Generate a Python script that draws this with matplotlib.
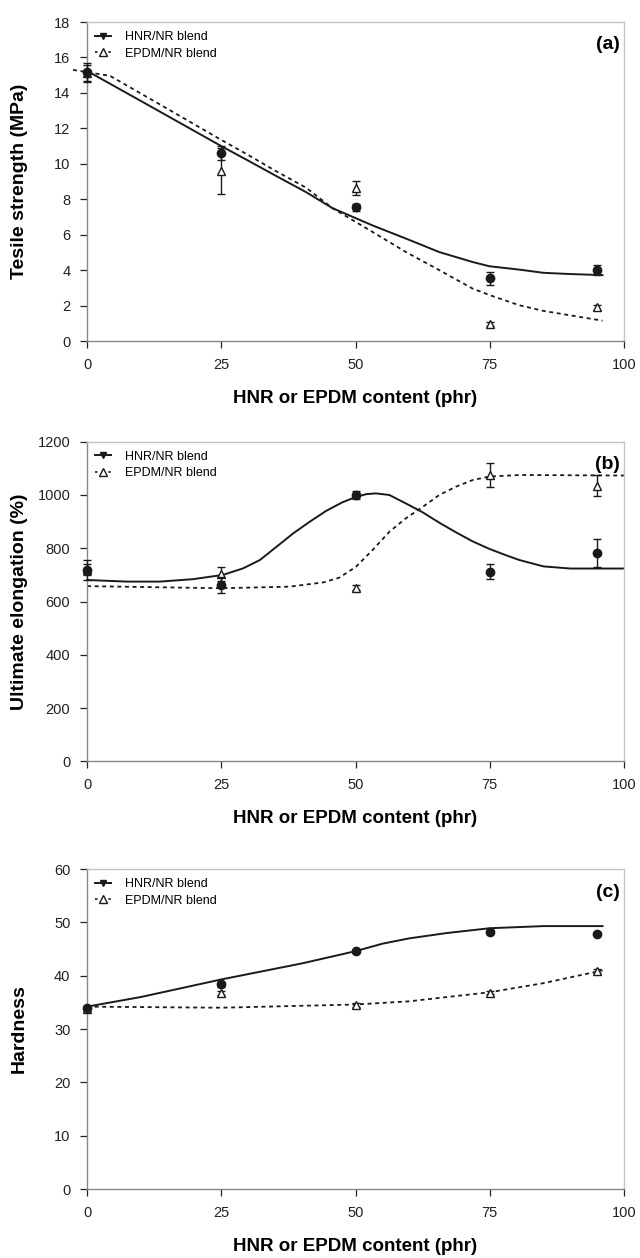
import numpy as np
import matplotlib
matplotlib.use('Agg')
import matplotlib.pyplot as plt

plt.rcParams['font.family'] = ['Liberation Sans', 'DejaVu Sans']

# contenu en HNR ou EPDM (phr)
x_pts = [0, 25, 50, 75, 95]

# (a) résistance à la traction
ts_hnr = [15.2, 10.6, 7.55, 3.55, 4.0]
ts_hnr_err = [0.5, 0.4, 0.2, 0.37, 0.3]
ts_epdm = [15.1, 9.6, 8.65, 0.95, 1.9]
ts_epdm_err = [0.5, 1.3, 0.4, 0.1, 0.15]
ts_fit_x = [0, 10, 20, 25, 30, 35, 40.8, 45.7, 53.2, 59.4, 65.6, 71.8, 74.9, 80.5, 85, 90, 96]
ts_fit_hnr = [15.24, 13.55, 11.85, 11.0, 10.18, 9.35, 8.4, 7.5, 6.52, 5.78, 5.02, 4.46, 4.22, 4.03, 3.85, 3.78, 3.72]
ts_fit_x2 = [-2.6, 4.3, 15, 24.7, 30, 35, 40.8, 45.7, 53.2, 59.4, 65.6, 71.8, 74.9, 80.5, 85, 90, 96]
ts_fit_epdm = [15.3, 14.96, 13.1, 11.4, 10.5, 9.62, 8.65, 7.5, 6.15, 5.02, 4.0, 2.96, 2.6, 2.02, 1.7, 1.45, 1.15]

# (b) allongement à la rupture
el_hnr = [718, 662, 1000, 712, 783]
el_hnr_err = [38, 30, 15, 28, 52]
el_epdm = [720, 703, 652, 1075, 1035]
el_epdm_err = [20, 25, 10, 45, 40]
el_fit_x = [0, 7.4, 13.6, 19.7, 25.3, 29.1, 32.2, 35.3, 38.4, 41.5, 44.5, 47.5, 50.1, 52, 53.8, 56.3,
            59.4, 62.5, 65.6, 68.7, 71.8, 74.9, 78, 80.5, 85, 90, 100]
el_fit_hnr = [681, 675, 675, 684, 700, 725, 756, 806, 856, 900, 940, 972, 993, 1003, 1006, 1000,
              968, 935, 896, 860, 826, 798, 774, 756, 732, 724, 724]
el_fit_x2 = [0, 25, 37.7, 44, 47, 50.1, 53.2, 56.3, 59.4, 62.5, 65.6, 68.7, 71.8, 74.9, 80.5, 100]
el_fit_epdm = [658, 650, 656, 672, 690, 731, 794, 862, 913, 955, 1000, 1031, 1056, 1069, 1075, 1073]

# (c) dureté
hd_hnr = [34.0, 38.4, 44.6, 48.25, 47.9]
hd_hnr_err = [0.4, 0.5, 0.3, 0.4, 0.3]
hd_epdm = [33.8, 36.7, 34.5, 36.8, 40.9]
hd_epdm_err = [0.3, 0.4, 0.3, 0.3, 0.4]
hd_fit_x = [0, 10, 25, 40, 50, 55, 60, 67, 75, 85, 96]
hd_fit_hnr = [34.2, 36.0, 39.3, 42.3, 44.6, 46.0, 47.0, 48.0, 48.9, 49.3, 49.3]
hd_fit_x2 = [0, 25, 50, 60, 75, 85, 96]
hd_fit_epdm = [34.2, 34.0, 34.6, 35.2, 36.9, 38.6, 41.0]

panels = [
    ('Tesile strength (MPa)', '(a)', (0, 18), np.arange(0, 19, 2),
     ts_hnr, ts_hnr_err, ts_epdm, ts_epdm_err, ts_fit_x, ts_fit_hnr, ts_fit_x2, ts_fit_epdm,
     [0.136, 0.7289, 0.839, 0.2536]),
    ('Ultimate elongation (%)', '(b)', (0, 1200), np.arange(0, 1201, 200),
     el_hnr, el_hnr_err, el_epdm, el_epdm_err, el_fit_x, el_fit_hnr, el_fit_x2, el_fit_epdm,
     [0.136, 0.3947, 0.839, 0.2542]),
    ('Hardness', '(c)', (0, 60), np.arange(0, 61, 10),
     hd_hnr, hd_hnr_err, hd_epdm, hd_epdm_err, hd_fit_x, hd_fit_hnr, hd_fit_x2, hd_fit_epdm,
     [0.136, 0.0548, 0.839, 0.2544]),
]

fig = plt.figure(figsize=(6.4, 12.58), dpi=100)
ink = '#1a1a1a'

for (ylab, tag, ylim, yticks, hnr, hnr_e, epdm, epdm_e, fx, fh, fx2, fe, pos) in panels:
    ax = fig.add_axes(pos)
    # courbes lissées
    ax.plot(fx, fh, '-', color=ink, lw=1.4, zorder=2, clip_on=False)
    ax.plot(fx2, fe, '--', color=ink, lw=1.3, dashes=(2.2, 2), zorder=2, clip_on=False)
    # points expérimentaux
    ax.errorbar(x_pts, epdm, yerr=epdm_e, fmt='^', mfc='white', mec=ink, ecolor=ink,
                ms=6, mew=1.0, capsize=3, elinewidth=1.0, zorder=3, clip_on=False)
    ax.errorbar(x_pts, hnr, yerr=hnr_e, fmt='o', mfc=ink, mec=ink, ecolor=ink,
                ms=6, capsize=3, elinewidth=1.0, zorder=4, clip_on=False)
    # légende
    h1, = ax.plot([], [], '-', color=ink, lw=1.4, marker='v', ms=5, mfc=ink)
    h2, = ax.plot([], [], '--', color=ink, lw=1.2, dashes=(1.5, 2.5), marker='^', ms=6, mfc='white')
    ax.legend([h1, h2], ['HNR/NR blend', 'EPDM/NR blend'], loc='upper left',
              bbox_to_anchor=(0.0, 0.995), frameon=False,
              fontsize=9, handlelength=1.3, handletextpad=1.1, labelspacing=0.37,
              borderaxespad=0.2, markerscale=1)
    ax.text(0.993, 0.928, tag, transform=ax.transAxes, ha='right', va='center',
            fontsize=14, fontweight='bold')

    ax.set_xlim(0, 100)
    ax.set_xticks([0, 25, 50, 75, 100])
    ax.set_ylim(*ylim)
    ax.set_yticks(yticks)
    ax.set_ylabel(ylab, fontsize=14, fontweight='bold')
    ax.yaxis.set_label_coords(-0.11, 0.5)
    ax.set_xlabel('HNR or EPDM content (phr)', fontsize=13.5, fontweight='bold', labelpad=13)
    ax.tick_params(direction='out', length=5, width=0.9, labelsize=10.5, colors='#222')
    ax.tick_params(axis='y', pad=7)
    ax.tick_params(axis='x', pad=7)
    for s in ['left', 'bottom']:
        ax.spines[s].set_color('#888')
        ax.spines[s].set_linewidth(1.0)
    for s in ['top', 'right']:
        ax.spines[s].set_color('#c4c4c4')
        ax.spines[s].set_linewidth(1.0)

fig.savefig('out.png', dpi=100)
